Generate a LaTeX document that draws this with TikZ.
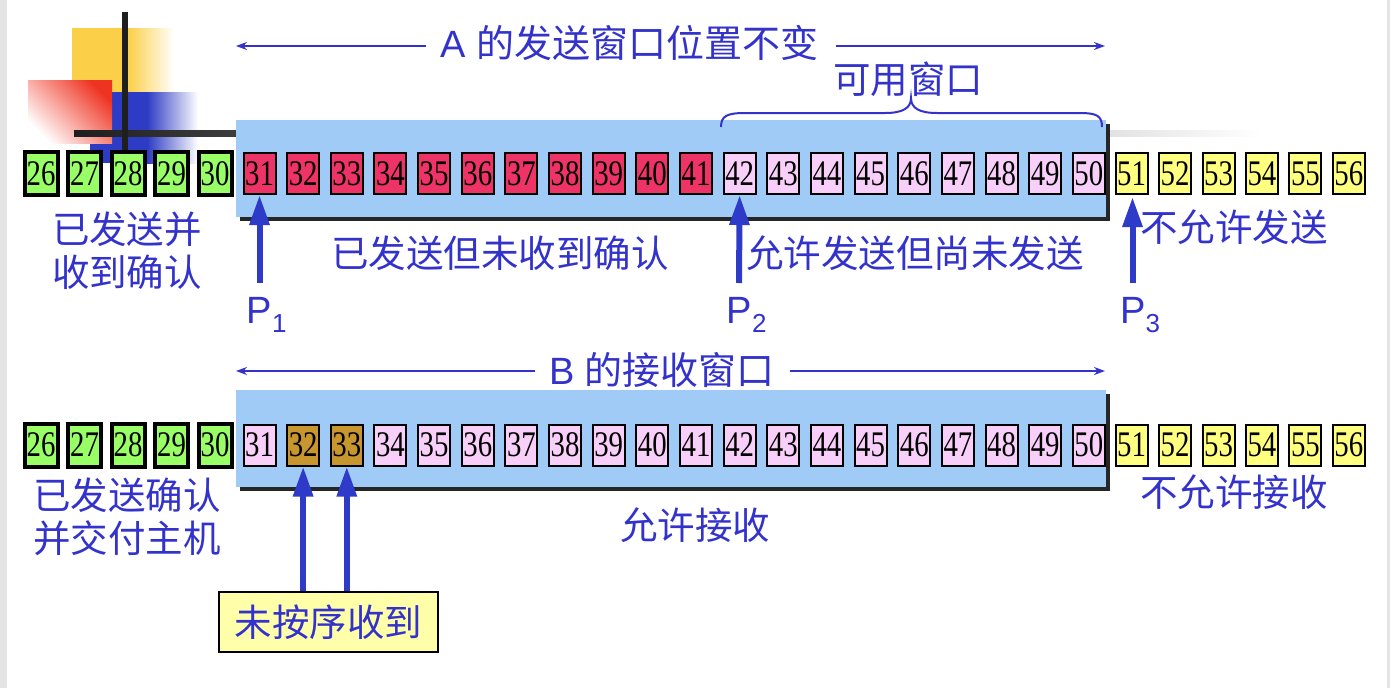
\documentclass[tikz,border=0pt]{standalone}
\usepackage{fontspec}
\setmainfont{Liberation Sans}
\newfontfamily\cjk{Noto Sans CJK SC}
\newfontfamily\numfont{Liberation Serif}
\usetikzlibrary{arrows.meta}
\definecolor{txtblue}{HTML}{3333CC}
\definecolor{arrblue}{HTML}{2E3BC8}
\definecolor{winblue}{HTML}{A0CBF7}
\definecolor{cgreen}{HTML}{99FF66}
\definecolor{cred}{HTML}{EE3366}
\definecolor{cpink}{HTML}{F7CFF9}
\definecolor{cyellow}{HTML}{FFFF80}
\definecolor{cbrown}{HTML}{C8962E}
\definecolor{boxyellow}{HTML}{FFFFAA}
\definecolor{decoyellow}{HTML}{FBCF48}
\definecolor{decoblue}{HTML}{2E3BC4}
\definecolor{decored}{HTML}{EE3322}
\definecolor{sidegray}{HTML}{E4E4E4}
\newcommand\cellnum[1]{\scalebox{0.8}[1]{\numfont\fontsize{36}{36}\selectfont #1}}
\tikzset{
  cellbase/.style={draw=black, line width=2pt, minimum width=32pt, minimum height=41pt, inner sep=0pt},
  donecell/.style={cellbase, fill=cgreen, line width=4pt, minimum width=33pt, minimum height=43pt},
  sentcell/.style={cellbase, fill=cred},
  freecell/.style={cellbase, fill=cpink},
  outcell/.style={cellbase, fill=cyellow},
  oocell/.style={cellbase, fill=cbrown},
  lbl/.style={text=txtblue, inner sep=0pt, align=center, font=\cjk\fontsize{37.5}{43}\selectfont},
  ttl/.style={text=txtblue, inner sep=0pt},
  plbl/.style={text=txtblue, inner sep=0pt, font=\fontsize{38}{38}\selectfont},
  thinarrow/.style={draw=txtblue, line width=2pt, -{Stealth[length=11pt,width=8pt]}},
  bigarrow/.style={draw=arrblue, line width=6pt, -{Triangle[length=30pt,width=19pt]}},
  bracestyle/.style={draw=txtblue, line width=2pt},
  notebox/.style={draw=black, line width=2pt, fill=boxyellow, minimum width=219pt, minimum height=60pt, inner sep=0pt, text=txtblue, font=\cjk\fontsize{37.5}{43}\selectfont}
}
\begin{document}
\begin{tikzpicture}[x=1pt,y=-1pt]
\useasboundingbox (0,0) rectangle (1390,688);
\fill[white] (0,0) rectangle (1390,688);
\fill[sidegray] (0,0) rectangle (7,688);
\fill[sidegray] (1387,0) rectangle (1390,688);
% decoration
\fill[decoyellow] (72,28) rectangle (128,92);
\shade[left color=decoyellow, right color=white] (128,28) rectangle (174,92);
\fill[decoblue] (90,92) rectangle (147,163);
\shade[left color=decoblue, right color=white] (147,92) rectangle (198,163);
\shade[top color=decored, bottom color=white, shading angle=-45] (28,80) rectangle (112,143);
\shade[left color=black!88, right color=white] (74,130) rectangle (1262,136);
\fill[black!88] (122,12) rectangle (128,150);
% windows
\fill[black!85] (240,124) rectangle (1110,221);
\fill[winblue] (236,120) rectangle (1106,217);
\fill[black!85] (240,394) rectangle (1110,491);
\fill[winblue] (236,390) rectangle (1106,487);
% cells
\foreach \n in {26,...,30}{
  \pgfmathsetmacro\cx{41+43.5*(\n-26)}
  \node[donecell] (a\n) at (\cx,173.5) {\cellnum{\n}};
  \node[donecell] (b\n) at (\cx,445) {\cellnum{\n}};
}
\foreach \n in {31,...,41}{
  \pgfmathsetmacro\cx{259.5+43.65*(\n-31)}
  \node[sentcell] (a\n) at (\cx,173.5) {\cellnum{\n}};
}
\foreach \n in {42,...,50}{
  \pgfmathsetmacro\cx{259.5+43.65*(\n-31)}
  \node[freecell] (a\n) at (\cx,173.5) {\cellnum{\n}};
}
\foreach \n in {31,34,35,36,37,38,39,40,41,42,43,44,45,46,47,48,49,50}{
  \pgfmathsetmacro\cx{259.5+43.65*(\n-31)}
  \node[freecell] (b\n) at (\cx,445) {\cellnum{\n}};
}
\foreach \n in {32,33}{
  \pgfmathsetmacro\cx{259.5+43.65*(\n-31)}
  \node[oocell] (b\n) at (\cx,445) {\cellnum{\n}};
}
\foreach \n in {51,...,56}{
  \pgfmathsetmacro\cx{1131.6+43.45*(\n-51)}
  \node[outcell] (a\n) at (\cx,173.5) {\cellnum{\n}};
  \node[outcell] (b\n) at (\cx,445) {\cellnum{\n}};
}
% titles and arrows
\node[ttl, anchor=west, font=\fontsize{38}{42}\selectfont] (titleA) at (440.5,43) {A {\cjk 的发送窗口位置不变}};
\coordinate (tAl0) at (426,46);
\coordinate (tAl1) at (236,46);
\coordinate (tAr0) at (836,46);
\coordinate (tAr1) at (1105,46);
\draw[thinarrow] (tAl0) -- (tAl1);
\draw[thinarrow] (tAr0) -- (tAr1);
\node[ttl, font=\fontsize{38}{42}\selectfont] (titleB) at (662,370) {B {\cjk 的接收窗口}};
\coordinate (tBl0) at (535,371);
\coordinate (tBl1) at (236,371);
\coordinate (tBr0) at (790,371);
\coordinate (tBr1) at (1105,371);
\draw[thinarrow] (tBl0) -- (tBl1);
\draw[thinarrow] (tBr0) -- (tBr1);
% brace
\draw[bracestyle] (721,127) .. controls (721,116) and (727,113) .. (745,113) -- (885,113) .. controls (903,113) and (911,108) .. (911,98) .. controls (911,108) and (919,113) .. (937,113) -- (1080,113) .. controls (1097,113) and (1102,116) .. (1102,127);
\node[lbl] (avail) at (908,79) {可用窗口};
% labels row A
\node[lbl] (doneA) at (127,250.5) {已发送并\\收到确认};
\node[lbl] (sentA) at (500,253) {已发送但未收到确认};
\node[lbl] (allowA) at (915,253) {允许发送但尚未发送};
\node[lbl] (denyA) at (1234,227) {不允许发送};
% pointers
\node[plbl, anchor=base west] (P1) at (246.5,323) {P\raisebox{-9pt}{\fontsize{26}{26}\selectfont 1}};
\node[plbl, anchor=base west] (P2) at (726.5,323) {P\raisebox{-9pt}{\fontsize{26}{26}\selectfont 2}};
\node[plbl, anchor=base west] (P3) at (1120,323) {P\raisebox{-9pt}{\fontsize{26}{26}\selectfont 3}};
\coordinate (p1s) at (259.5,283);
\coordinate (p2s) at (739,283);
\coordinate (p3s) at (1132.5,283);
\coordinate (p3t) at (1132.5,197);
\draw[bigarrow] (p1s) -- (a31.south);
\draw[bigarrow] (p2s) -- (a42.south);
\draw[bigarrow] (p3s) -- (p3t);
% labels row B
\node[lbl] (doneB) at (127,517) {已发送确认\\并交付主机};
\node[lbl] (allowB) at (695,525) {允许接收};
\node[lbl] (denyB) at (1234,492) {不允许接收};
\node[notebox] (note) at (328.5,622) {未按序收到};
\draw[bigarrow] (b32.south |- note.north) -- (b32.south);
\draw[bigarrow] (b33.south |- note.north) -- (b33.south);
\end{tikzpicture}
\end{document}
